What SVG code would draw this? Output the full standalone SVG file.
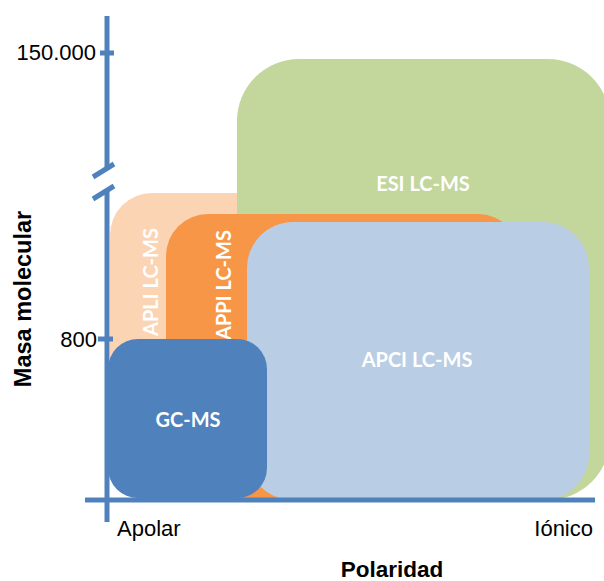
<svg xmlns="http://www.w3.org/2000/svg" width="604" height="581" viewBox="0 0 604 581">
<style>
.lbl{font-family:Lato,"Open Sans",sans-serif;font-weight:bold;fill:#fff;font-size:20px;text-anchor:middle}
.ax{font-family:"Liberation Sans",Arial,sans-serif;fill:#000;font-size:22px}
.axb{font-family:"Liberation Sans",Arial,sans-serif;fill:#000;font-size:22.5px;font-weight:bold;text-anchor:middle}
.axis{stroke:#4F81BD;stroke-width:5;fill:none}
</style>
<rect width="604" height="581" fill="#fff"/>
<g id="apli">
<rect x="110" y="193" width="200" height="307" rx="42" fill="#FBD4B4"/>
</g>
<g id="esi">
<rect x="237" y="59" width="373" height="441" rx="62" fill="#C3D69B"/>
<text class="lbl" x="423" y="191">ESI LC-MS</text>
</g>
<g id="appi">
<rect x="166" y="214" width="354" height="284" rx="42" fill="#F79646"/>
</g>
<g id="apci">
<rect x="247" y="222" width="342" height="278" rx="46" fill="#B9CDE5"/>
<text class="lbl" x="417" y="367">APCI LC-MS</text>
</g>
<g id="apli-label">
<text class="lbl" transform="translate(158,282) rotate(-90)">APLI LC-MS</text>
</g>
<g id="appi-label">
<text class="lbl" transform="translate(231,285) rotate(-90)">APPI LC-MS</text>
</g>
<g id="gcms">
<rect x="108" y="339" width="159" height="159" rx="30" fill="#4F81BD"/>
<text class="lbl" x="188" y="427">GC-MS</text>
</g>
<g id="connectors">
<line class="axis" x1="107" y1="16" x2="107" y2="170"/>
<line class="axis" x1="107" y1="190" x2="107" y2="522"/>
<line class="axis" x1="93" y1="177" x2="114" y2="164"/>
<line class="axis" x1="93" y1="199" x2="114" y2="186"/>
<line class="axis" x1="100" y1="53" x2="114" y2="53"/>
<line class="axis" x1="98" y1="339" x2="113" y2="339"/>
<line class="axis" x1="85" y1="500" x2="595" y2="500"/>
</g>
<g id="labels">
<text class="ax" x="96" y="60" text-anchor="end">150.000</text>
<text class="ax" x="97" y="347" text-anchor="end">800</text>
<text class="ax" x="117" y="536">Apolar</text>
<text class="ax" x="593" y="536" text-anchor="end">Iónico</text>
<text class="axb" x="392" y="577">Polaridad</text>
<text class="axb" transform="translate(31,299) rotate(-90)" style="font-size:23.5px">Masa molecular</text>
</g>
</svg>
